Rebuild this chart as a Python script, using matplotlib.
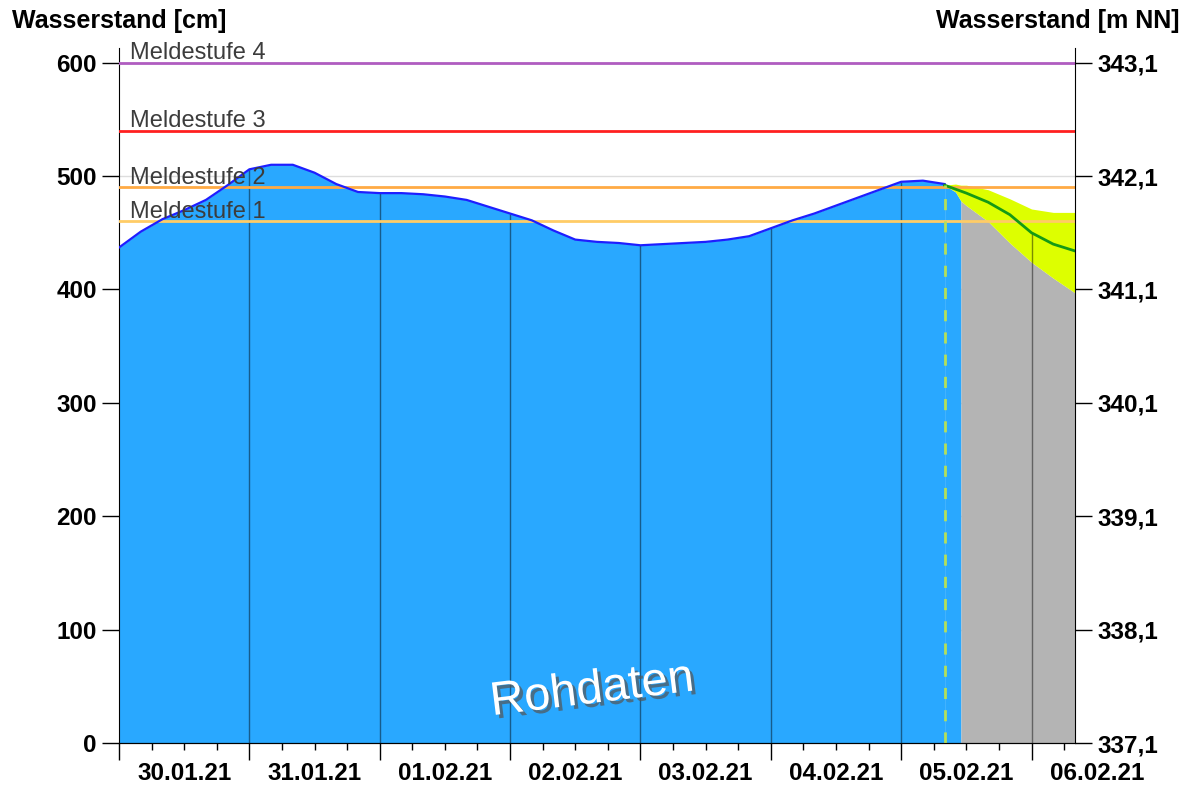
import numpy as np
import pandas as pd
import matplotlib
matplotlib.use("Agg")
from matplotlib import pyplot as plt
import matplotlib.dates as mdates
import matplotlib.patheffects as pe
from matplotlib.ticker import FuncFormatter

plt.rcParams['font.family'] = ['Liberation Sans', 'DejaVu Sans']

# Rohdaten, alle 4 Stunden ab 30.01.21 00:00 bis 05.02.21 08:00
obs_t = pd.date_range("2021-01-30 00:00", "2021-02-05 08:00", freq="4h")
obs_w = [437, 451, 462, 470, 479, 492, 506, 510, 510, 503,
         493, 486, 485, 485, 484, 482, 479, 473, 467, 461,
         452, 444, 442, 441, 439, 440, 441, 442, 444, 447,
         454, 461, 467, 474, 481, 488, 495, 496, 493]

# Vorhersage (Median)
fc_t = pd.to_datetime(["2021-02-05 08:00", "2021-02-05 12:00", "2021-02-05 16:00",
                       "2021-02-05 20:00", "2021-02-06 00:00", "2021-02-06 04:00",
                       "2021-02-06 08:00"])
fc_w = [492, 485, 477, 466, 450, 440, 434]

# Vorhersage-Bandbreite
band_t = pd.to_datetime(["2021-02-05 08:00", "2021-02-05 10:00", "2021-02-05 11:00",
                         "2021-02-05 12:00", "2021-02-05 16:00", "2021-02-05 20:00",
                         "2021-02-06 00:00", "2021-02-06 04:00", "2021-02-06 08:00"])
band_hi = [492, 493, 492, 492, 488, 480, 471, 468, 468]
band_lo = [492, 486, 478, 474, 460, 441, 424, 410, 397]
grau_ab = pd.Timestamp("2021-02-05 11:00")

# Meldestufen
ms_namen = ["Meldestufe 1", "Meldestufe 2", "Meldestufe 3", "Meldestufe 4"]
ms_werte = [460, 490, 540, 600]
ms_farben = ["#ffcc66", "#ffaa44", "#ff2020", "#b05cc0"]

pegel_null = 337.1  # m NN
tage = pd.date_range("2021-01-30", "2021-02-06", freq="D")
x_start = pd.Timestamp("2021-01-30 00:00")
x_ende = pd.Timestamp("2021-02-06 08:00")

blau = "#29a8ff"

fig = plt.figure(figsize=(11.91, 7.91), dpi=100)
ax = fig.add_axes([119 / 1191, 48 / 791, 956 / 1191, 695 / 791])

ax.set_xlim(x_start, x_ende)
ax.set_ylim(0, 613)
ax.set_yticks(range(0, 700, 100))
ax.yaxis.grid(True, color="#dddddd", lw=1)
ax.set_axisbelow(True)

# Flaechen
ax.fill_between(obs_t, 0, obs_w, color=blau, lw=0, zorder=1)
ax.fill_between(band_t, 0, band_lo, where=band_t <= grau_ab, color=blau, lw=0, zorder=1)
ax.fill_between(band_t, 0, band_lo, where=band_t >= grau_ab, color="#b4b4b4", lw=0, zorder=1)
ax.fill_between(band_t, band_lo, band_hi, color="#ddff00", lw=0, zorder=1.5)

# Tagestrennlinien bis zur Ganglinie
haupt = pd.Series(list(obs_w) + fc_w[1:], index=obs_t.append(fc_t[1:]))
ax.vlines(tage[1:], 0, haupt.loc[tage[1:]].values, colors="k", alpha=0.45, lw=1, zorder=2)

# Meldestufen
for name, w, c in zip(ms_namen, ms_werte, ms_farben):
    ax.axhline(w, color=c, lw=2, zorder=3)
    ax.text(0.012, w + 3, name, transform=ax.get_yaxis_transform(), fontsize=17,
            color="#3c3c3c", va="baseline", ha="left", zorder=5)

# Ganglinien
ax.plot(obs_t, obs_w, color="#1e1eff", lw=1.6, zorder=4)
ax.plot(fc_t, fc_w, color="#159a15", lw=2, zorder=4)
ax.vlines(fc_t[0], 0, fc_w[0], colors="#b4e05a", linestyles=(0, (4, 4)), lw=2, zorder=4)

ax.text(0.495, 0.075, "Rohdaten", transform=ax.transAxes, fontsize=34, color="white",
        rotation=7, ha="center", va="center", zorder=6,
        path_effects=[pe.SimplePatchShadow(offset=(2.5, -2.5), shadow_rgbFace="#555555", alpha=0.7),
                      pe.Normal()])

# Achsen
ax.xaxis.set_major_locator(mdates.DayLocator())
ax.xaxis.set_minor_locator(mdates.HourLocator(byhour=[6, 12, 18]))
ax.tick_params(axis="x", which="major", length=12, width=1, labelbottom=False)
ax.tick_params(axis="x", which="minor", length=5, width=1)
ax.tick_params(axis="y", length=12, width=1, labelsize=17.5, pad=4)
for lab in ax.get_yticklabels():
    lab.set_fontweight("bold")

for d in tage:
    ax.annotate(d.strftime("%d.%m.%y"), xy=(mdates.date2num(d + pd.Timedelta(hours=12)), 0),
                xycoords=("data", "axes fraction"), xytext=(0, -14), textcoords="offset points",
                ha="center", va="top", fontsize=17.5, fontweight="bold", annotation_clip=False)

ax.spines["top"].set_visible(False)
ax.spines["right"].set_visible(False)

ax2 = ax.twinx()
lo, hi = ax.get_ylim()
ax2.set_ylim(pegel_null + lo / 100, pegel_null + hi / 100)
ax2.set_yticks(pegel_null + np.arange(0, 7))
ax2.yaxis.set_major_formatter(FuncFormatter(lambda v, p: f"{v:.1f}".replace(".", ",")))
ax2.tick_params(axis="y", length=12, width=1, labelsize=17.5, pad=4)
for lab in ax2.get_yticklabels():
    lab.set_fontweight("bold")
ax2.spines["top"].set_visible(False)
ax2.spines["left"].set_visible(False)

fig.text(12 / 1191, 1 - 9 / 791, "Wasserstand [cm]", ha="left", va="top",
         fontsize=18, fontweight="bold")
fig.text(1180 / 1191, 1 - 9 / 791, "Wasserstand [m NN]", ha="right", va="top",
         fontsize=18, fontweight="bold")

fig.savefig("out.png", dpi=100)
